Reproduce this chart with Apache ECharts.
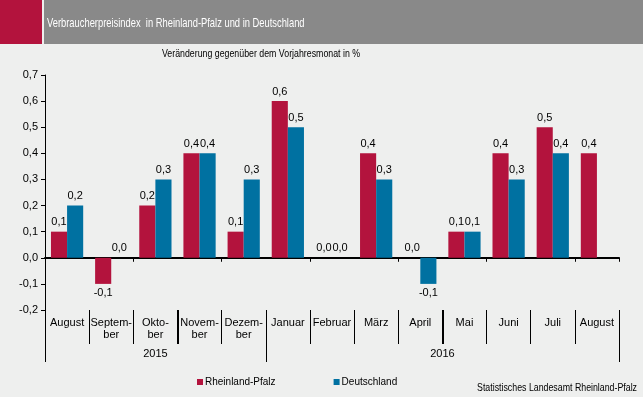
<!DOCTYPE html>
<html>
<head>
<meta charset="utf-8">
<script src="https://cdn.jsdelivr.net/npm/echarts@6/dist/echarts.min.js"></script>
<style>
  html, body { margin: 0; padding: 0; background: #eeefee; }
  #chart { width: 643px; height: 397px; }
</style>
</head>
<body>
<div id="chart"></div>
<script>
// Monate Aug 2015 - Aug 2016
const months = ["August", "Septem-\nber", "Okto-\nber", "Novem-\nber", "Dezem-\nber", "Januar", "Februar", "März", "April", "Mai", "Juni", "Juli", "August"];
const years = ["2015", "2016"];
const yearBounds = [0, 5, 13];      // Kategorie-Grenzen der Jahre
const yearCenters = [2.5, 9];
const rlp = [0.1, -0.1, 0.2, 0.4, 0.1, 0.6, 0.0, 0.4, 0.0, 0.1, 0.4, 0.5, 0.4];
const de = [0.2, 0.0, 0.3, 0.4, 0.3, 0.5, 0.0, 0.3, -0.1, 0.1, 0.3, 0.4, null];

const RED = "#b3133d";
const BLUE = "#0071a1";
const FONT = "Liberation Sans";

function fmt(v) {
  return v.toFixed(1).replace(".", ",");
}
function toData(arr) {
  return arr.map(v => v === null ? null : {
    value: v,
    label: { position: v < 0 ? "bottom" : "top" }
  });
}

let chart = echarts.init(document.getElementById("chart"));

let option = {
  backgroundColor: "#eeefee",
  animation: false,
  textStyle: { fontFamily: FONT },
  // Schrift im Original ist schmaler -> Texte horizontal gestaucht
  graphic: [
    { type: "rect", x: 0, y: 0, shape: { width: 42, height: 44 }, style: { fill: RED }, z: -1 },
    { type: "rect", x: 44, y: 0, shape: { width: 599, height: 44 }, style: { fill: "#898989" }, z: -1 },
    {
      type: "text", x: 47, y: 23, scaleX: 0.72,
      style: {
        text: "Verbraucherpreisindex  in Rheinland-Pfalz und in Deutschland",
        fill: "#fff", font: "13px " + FONT, verticalAlign: "middle"
      }
    },
    {
      type: "text", x: 261, y: 54, scaleX: 0.8,
      style: {
        text: "Veränderung gegenüber dem Vorjahresmonat in %",
        fill: "#000", font: "11px " + FONT, textAlign: "center", verticalAlign: "middle"
      }
    },
    {
      type: "text", x: 637, y: 388, scaleX: 0.8,
      style: {
        text: "Statistisches Landesamt Rheinland-Pfalz",
        fill: "#000", font: "11px " + FONT, textAlign: "right", verticalAlign: "middle"
      }
    }
  ],
  legend: {
    data: ["Rheinland-Pfalz", "Deutschland"],
    left: 192, top: 372,
    itemWidth: 6, itemHeight: 6, itemGap: 58,
    icon: "rect",
    textStyle: { fontSize: 10, color: "#000", fontFamily: FONT, padding: [0, 0, 0, -3] }
  },
  grid: { left: 45, right: 24, top: 75, bottom: 87 },
  xAxis: [
    {
      type: "category",
      data: months,
      axisLine: { onZero: true, lineStyle: { color: "#000", width: 2 } },
      axisTick: { show: true, length: 4, lineStyle: { color: "#000" } },
      axisLabel: { show: false }
    },
    {
      type: "category",
      data: months,
      position: "bottom",
      axisLine: { onZero: false, show: false },
      axisTick: { show: true, length: 34, lineStyle: { color: "#000" } },
      axisLabel: { color: "#000", fontSize: 11, lineHeight: 12, margin: 7, interval: 0 }
    },
    {
      type: "value",
      min: 0, max: 13,
      position: "bottom",
      axisLine: { onZero: false, show: false },
      splitLine: { show: false },
      axisTick: { show: true, length: 52, customValues: yearBounds, lineStyle: { color: "#000" } },
      axisLabel: {
        customValues: yearCenters, margin: 38, color: "#000", fontSize: 11,
        formatter: v => years[yearCenters.indexOf(v)]
      }
    },
    {
      type: "value",
      min: 0, max: 13,
      position: "bottom",
      axisLine: { onZero: false, show: false },
      splitLine: { show: false },
      axisTick: { show: true, length: 34, customValues: [3, 9], lineStyle: { color: "#000", width: 2 } },
      axisLabel: { show: false }
    }
  ],
  yAxis: {
    type: "value",
    min: -0.2, max: 0.7, interval: 0.1,
    axisLine: { show: true, lineStyle: { color: "#000" } },
    axisTick: { show: true, length: 4, lineStyle: { color: "#000" } },
    splitLine: { show: false },
    axisLabel: { color: "#000", fontSize: 11, margin: 7, formatter: v => fmt(v) }
  },
  series: [
    {
      name: "Rheinland-Pfalz",
      type: "bar",
      data: toData(rlp),
      itemStyle: { color: RED },
      barGap: "0%",
      barCategoryGap: "27%",
      label: { show: true, color: "#000", fontSize: 11, distance: 4, formatter: p => fmt(p.value) }
    },
    {
      name: "Deutschland",
      type: "bar",
      data: toData(de),
      itemStyle: { color: BLUE },
      label: { show: true, color: "#000", fontSize: 11, distance: 4, formatter: p => fmt(p.value) }
    }
  ]
};

chart.setOption(option);
</script>
</body>
</html>
